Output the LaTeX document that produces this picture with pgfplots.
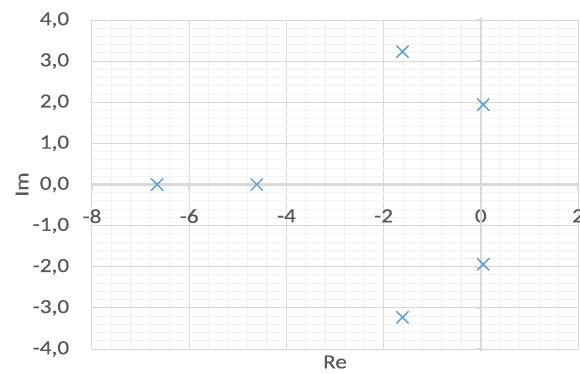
\documentclass[border=0pt]{standalone}
\usepackage{pgfplots}
\pgfplotsset{compat=1.18}
\usepackage{fontspec}
\setmainfont{Carlito}[FakeStretch=1.16, FakeBold=0.4]

\definecolor{txt}{HTML}{595959}
\definecolor{major}{HTML}{D9D9D9}
\definecolor{minor}{HTML}{F2F2F2}
\definecolor{pole}{HTML}{5B9BD5}

\begin{document}
\fontsize{20bp}{24bp}\selectfont
\begin{tikzpicture}
\useasboundingbox (-92bp,-25bp) rectangle (488bp,349bp);
\begin{axis}[
  at={(0,0)}, anchor=south west,
  scale only axis, width=486bp, height=329bp,
  xmin=-8, xmax=2, ymin=-4, ymax=4,
  axis x line*=middle, axis y line*=left,
  hide obscured x ticks=false, hide obscured y ticks=false,
  x axis line style={draw=major, line width=2.2bp},
  y axis line style={draw=major, line width=1bp},
  xtick={-8,-6,...,2}, ytick={-4,-3,...,4},
  minor x tick num=4, minor y tick num=4,
  grid=both,
  major grid style={draw=major, line width=1bp},
  minor grid style={draw=minor, line width=1bp},
  x tick style={draw=major, line width=1.5bp},
  xtick align=outside, major tick length=5bp, minor tick length=0pt,
  y tick style={draw=none},
  /pgf/number format/assume math mode=true,
  tick label style={text=txt, font=\fontsize{20bp}{24bp}\selectfont},
  xticklabel style={anchor=north, yshift=-13bp},
  yticklabel style={anchor=east, xshift=-16bp,
    /pgf/number format/.cd, fixed, fixed zerofill, precision=1, use comma},
  xlabel={Re}, ylabel={Im},
  label style={text=txt, font=\fontsize{20bp}{24bp}\selectfont},
  xlabel style={at={(rel axis cs:0.5,0)}, anchor=center, yshift=-13bp},
  ylabel style={at={(rel axis cs:0,0.5)}, anchor=center, yshift=70bp},
  clip=false,
]
% vertical axis through Re = 0, with its short tick marks
\draw[major, line width=2.2bp] (axis cs:0,-4.05) -- (axis cs:0,4.05);
\pgfplotsinvokeforeach{-4,-3,...,4}{
  \draw[major, line width=1.5bp] (axis cs:0,#1) -- ([xshift=-5bp]axis cs:0,#1);
}
% poles of the system
\addplot[only marks, mark=x, mark size=8.6bp, color=pole,
  mark options={line width=1.4bp}] coordinates {
  (-6.66, 0.00)
  (-4.61, 0.00)
  (-1.61, 3.23)
  (-1.61,-3.23)
  ( 0.05, 1.94)
  ( 0.05,-1.94)
};
\end{axis}
\end{tikzpicture}
\end{document}
